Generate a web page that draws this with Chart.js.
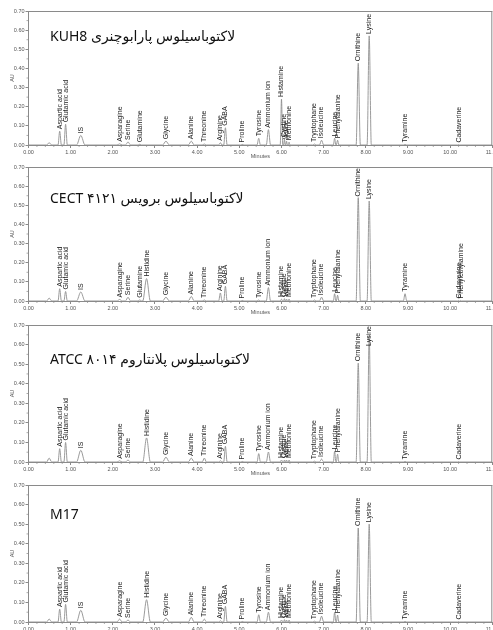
<!DOCTYPE html>
<html><head><meta charset="utf-8">
<script src="https://cdn.jsdelivr.net/npm/chart.js@4/dist/chart.umd.min.js"></script>
<style>
html,body{margin:0;padding:0;background:#fff;overflow:hidden;width:493px;height:630px;position:relative;}
.panel{position:absolute;left:0;width:500px;}
</style></head><body>
<div class="panel" id="p0" style="top:0px;height:160px"><canvas id="c0"></canvas></div>
<div class="panel" id="p1" style="top:156px;height:160px"><canvas id="c1"></canvas></div>
<div class="panel" id="p2" style="top:314px;height:163px"><canvas id="c2"></canvas></div>
<div class="panel" id="p3" style="top:474px;height:163px"><canvas id="c3"></canvas></div>
<script>
// ---- data ----
const compounds = ['', 'Aspartic acid', 'Glutamic acid', 'IS', 'Asparagine', 'Serine', 'Glutamine', 'Histidine',
  'Glycine', 'Alanine', 'Threonine', 'Arginine', 'GABA', 'Proline', 'Tyrosine', 'Ammonium ion', 'Histamine',
  'Cystine', 'Valine', 'Methionine', 'Tryptophane', 'Isoleucine', 'Leucine', 'Phenylalanine', 'Ornithine',
  'Lysine', 'Tyramine', 'Cadaverine', 'Phenylethylamine'];
const retentionTimes = [0.49, 0.74, 0.88, 1.24, 2.16, 2.36, 2.64, 2.80, 3.26, 3.86, 4.17, 4.55, 4.67, 5.07, 5.46,
  5.69, 6.00, 6.07, 6.12, 6.18, 6.78, 6.95, 7.26, 7.33, 7.82, 8.08, 8.93, 10.20, 10.25];
const halfWidths = [0.06, 0.04, 0.04, 0.10, 0.06, 0.06, 0.04, 0.09, 0.08, 0.07, 0.05, 0.04, 0.04, 0.04, 0.04,
  0.05, 0.03, 0.02, 0.02, 0.02, 0.04, 0.05, 0.03, 0.03, 0.05, 0.05, 0.04, 0.02, 0.02];
const heightsKUH8 = [0.012, 0.072, 0.108, 0.050, 0.006, 0.016, 0.004, null, 0.020, 0.020, 0.005, 0.012, 0.090, 0.003,
  0.035, 0.080, 0.240, 0.030, 0.020, 0.015, 0.005, 0.025, 0.035, 0.025, 0.427, 0.570, 0.003, 0.002, null];
const heightsCECT = [0.015, 0.064, 0.050, 0.047, 0.008, 0.020, 0.006, 0.117, 0.020, 0.024, 0.005, 0.042, 0.077, 0.003,
  0.005, 0.070, 0.010, 0.012, 0.010, 0.010, 0.005, 0.020, 0.038, 0.030, 0.540, 0.522, 0.038, 0.003, 0.003];
const heightsATCC = [0.020, 0.068, 0.100, 0.060, 0.006, 0.010, null, 0.123, 0.025, 0.020, 0.020, 0.006, 0.080, 0.003,
  0.043, 0.051, 0.010, 0.010, 0.010, 0.010, 0.004, 0.015, 0.055, 0.040, 0.505, 0.647, 0.003, 0.002, null];
const heightsM17 = [0.015, 0.066, 0.090, 0.060, 0.015, 0.010, null, 0.114, 0.020, 0.024, 0.015, 0.006, 0.080, 0.003,
  0.037, 0.050, 0.010, 0.012, 0.010, 0.010, 0.004, 0.030, 0.050, 0.035, 0.480, 0.500, 0.003, 0.002, null];
const panelTitles = ['لاکتوباسیلوس پارابوچنری KUH8', 'لاکتوباسیلوس برویس ۴۱۲۱ CECT',
  'لاکتوباسیلوس پلانتاروم ۸۰۱۴ ATCC', 'M17'];
const titleDirections = ['rtl', 'rtl', 'rtl', 'ltr'];
const xTickValues = [0, 1, 2, 3, 4, 5, 6, 7, 8, 9, 10, 11];
const yTickValues = [0, 0.1, 0.2, 0.3, 0.4, 0.5, 0.6, 0.7];

// ---- layout / style ----
const panels = [heightsKUH8, heightsCECT, heightsATCC, heightsM17];
const titleOffsets = [26, 32, 35, 30];
const axisFont = {family: '"Liberation Sans", Arial, sans-serif', size: 5.5};

function buildTrace(heights) {
  const pts = [{x: 0, y: 0}];
  heights.forEach((h, i) => {
    if (h == null) return;
    const t = retentionTimes[i], w = halfWidths[i];
    pts.push({x: t - w, y: 0}, {x: t, y: h}, {x: t + w, y: 0});
  });
  pts.push({x: 11, y: 0});
  pts.sort((a, b) => a.x - b.x);
  return pts;
}

const decorPlugin = {
  id: 'decor',
  beforeDatasetsDraw(chart) {
    const {ctx, chartArea: a} = chart;
    ctx.save();
    ctx.strokeStyle = '#8a8a8a';
    ctx.lineWidth = 1;
    ctx.beginPath();
    ctx.moveTo(a.left, a.top + 0.5); ctx.lineTo(a.right, a.top + 0.5);
    ctx.moveTo(a.right - 0.5, a.top); ctx.lineTo(a.right - 0.5, a.bottom);
    ctx.stroke();
    // minor ticks
    const xs = chart.scales.x, ys = chart.scales.y;
    ctx.lineWidth = 0.7;
    ctx.beginPath();
    for (let i = 0; i <= 55; i++) {
      if (i % 5 === 0) continue;
      const px = xs.getPixelForValue(i / 5);
      ctx.moveTo(px, a.bottom); ctx.lineTo(px, a.bottom + 2);
    }
    for (let j = 0; j <= 14; j++) {
      if (j % 2 === 0) continue;
      const py = ys.getPixelForValue(j / 20);
      ctx.moveTo(a.left, py); ctx.lineTo(a.left - 2, py);
    }
    ctx.stroke();
    ctx.restore();
  },
  afterDatasetsDraw(chart, args, opts) {
    const {ctx, chartArea: a} = chart;
    const xs = chart.scales.x, ys = chart.scales.y;
    ctx.save();
    ctx.font = '7px "Liberation Sans", Arial, sans-serif';
    ctx.fillStyle = '#222';
    opts.heights.forEach((h, i) => {
      const name = compounds[i];
      if (h == null || !name) return;
      const px = xs.getPixelForValue(retentionTimes[i]);
      const w = ctx.measureText(name).width;
      let bottom = ys.getPixelForValue(h) - 2;
      if (bottom - w < a.top + 1) bottom = a.top + 1 + w;
      ctx.save();
      ctx.translate(px, bottom);
      ctx.rotate(-Math.PI / 2);
      ctx.textAlign = 'left';
      ctx.textBaseline = 'middle';
      ctx.fillText(name, 0, 0);
      ctx.restore();
    });
    // panel title
    ctx.font = '14px "Noto Sans", "DejaVu Sans", sans-serif';
    ctx.fillStyle = '#111';
    ctx.direction = opts.direction;
    ctx.textAlign = 'left';
    ctx.textBaseline = 'middle';
    ctx.fillText(opts.title, 50, a.top + opts.titleOffset);
    ctx.restore();
  }
};

panels.forEach((heights, k) => {
  new Chart(document.getElementById('c' + k), {
    type: 'line',
    data: {datasets: [{
      data: buildTrace(heights),
      borderColor: '#909090',
      borderWidth: 0.9,
      pointRadius: 0,
      cubicInterpolationMode: 'monotone',
      fill: false
    }]},
    options: {
      responsive: true,
      maintainAspectRatio: false,
      animation: false,
      events: [],
      layout: {padding: {top: 11, right: 4, left: 0, bottom: 0}},
      plugins: {
        legend: {display: false},
        tooltip: {enabled: false},
        decor: {heights: heights, title: panelTitles[k], direction: titleDirections[k], titleOffset: titleOffsets[k]}
      },
      scales: {
        x: {
          type: 'linear', min: 0, max: 11,
          afterBuildTicks: s => { s.ticks = xTickValues.map(v => ({value: v})); },
          afterFit: s => { s.height = 15; },
          ticks: {autoSkip: false, maxRotation: 0, padding: 1, font: axisFont, color: '#555',
            callback: v => Number(v).toFixed(2)},
          grid: {drawOnChartArea: false, tickLength: 3, color: '#8a8a8a'},
          border: {display: true, color: '#8a8a8a', width: 1},
          title: {display: true, text: 'Minutes', font: axisFont, color: '#555', padding: {top: 0, bottom: 0}}
        },
        y: {
          type: 'linear', min: 0, max: 0.7,
          afterBuildTicks: s => { s.ticks = yTickValues.map(v => ({value: v})); },
          afterFit: s => { s.width = 28.5; },
          ticks: {autoSkip: false, padding: 1, font: axisFont, color: '#555',
            callback: v => Number(v).toFixed(2)},
          grid: {drawOnChartArea: false, tickLength: 3, color: '#8a8a8a'},
          border: {display: true, color: '#8a8a8a', width: 1},
          title: {display: true, text: 'AU', font: axisFont, color: '#555', padding: {top: 9, bottom: 0}}
        }
      }
    },
    plugins: [decorPlugin]
  });
});
</script>
</body></html>
